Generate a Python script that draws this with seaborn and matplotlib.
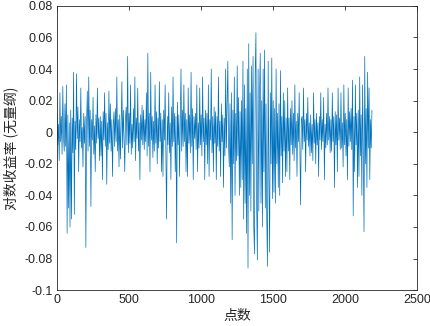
import numpy as np
import pandas as pd
import matplotlib
matplotlib.use("Agg")
import matplotlib.pyplot as plt
import seaborn as sns

# 对数收益率 (单位: 0.001), 每 5 个点取一个读数
returns_milli = [
    12, -8, 5, -18, 25, -6, 10, -14, 29, -3, -12, 18, -9, 30, -64, 11, -48, 6, -60, 14,
    -55, 9, -13, 38, -52, 7, -11, 37, -4, 16, -25, 8, -6, 28, -10, 3, -22, 12, -7, 10,
    -73, 6, 26, -12, 35, -9, 14, -47, 8, -5, 22, -14, 4, -25, 11, -7, 28, -4, 9, -18,
    10, -15, 7, -30, 13, -5, 25, -9, 12, -33, 6, -11, 26, -7, 18, -12, 8, -28, 4, 13,
    -9, 15, -6, 35, -12, 8, -22, 11, -17, 5, 32, -10, 14, -4, -25, 9, 16, -8, 48, -13,
    12, -7, 30, -14, 5, -10, 15, -6, 35, -18, 9, -4, 28, -12, 6, -30, 11, -5, 17, -8,
    14, -11, 8, -6, 25, -15, 50, -9, 12, -25, 38, -5, 10, -16, 7, -12, 30, -7, 13, -20,
    9, -10, 32, -6, 12, -25, 8, -28, 14, -5, 30, -11, -55, 10, -8, 25, -13, 6, -30, 16,
    -9, 35, -6, 12, -25, 10, -70, 19, -8, 11, -28, 5, 40, -12, 14, -9, 30, -6, 12, -25,
    8, -28, 28, -7, 11, -13, 38, -9, 15, -30, 10, -4, 12, -11, 30, -25, 6, -10, 28, -8,
    11, -15, 35, -6, 9, -30, 14, -8, 12, -20, 30, -28, 8, -5, 40, -13, 10, -25, 16, -7,
    13, -30, 10, -9, 35, -12, 7, -28, 18, -6, 11, -35, 9, -15, 40, -10, 16, 45, -8, -22,
    18, -45, 25, -68, 14, -20, 35, -40, 12, -18, 42, -15, 22, -40, 13, -35, 20, -30, 45, -55,
    30, -45, 15, -64, 40, -86, 56, -40, 25, -50, 42, -20, 48, -60, -77, 38, 63, -45, -81, 40,
    -50, 25, 50, -45, 20, -60, 40, -25, 52, -48, 18, -55, -85, 45, -30, -76, 25, -20, 47, -42,
    20, -38, 15, -45, 40, -20, 12, -35, 18, -40, 39, -15, 10, -32, 25, -12, 20, -28, 9, -25,
    28, -12, 9, -30, 15, -8, 20, -14, 12, -18, 30, -10, 7, -28, 12, -6, 25, -9, -46, 8,
    10, -11, 28, -6, 8, -25, 12, -5, 22, -9, 6, -15, 11, -13, 5, -18, 25, -7, 8, -20,
    12, -8, 6, -28, 10, -5, 25, -11, 8, -6, 22, -30, 5, -10, 12, -8, 28, -5, 10, -13,
    8, -12, 25, -6, 10, -35, 13, -8, 11, -25, 28, -5, 9, -11, 25, -10, 6, -22, 30, -8,
    12, -15, 8, -30, 28, -9, 13, -6, 15, -11, 33, -53, 10, -25, 30, -8, 12, -35, 14, -28,
    35, -15, 11, -40, 30, -12, -63, 48, -20, 15, -35, 38, -10, 28, -30, 8, -10, 14,
]
point_step = 5

x_ticks = [0, 500, 1000, 1500, 2000, 2500]
y_ticks = [-0.1, -0.08, -0.06, -0.04, -0.02, 0, 0.02, 0.04, 0.06, 0.08]
y_tick_labels = ["-0.1", "-0.08", "-0.06", "-0.04", "-0.02", "0",
                 "0.02", "0.04", "0.06", "0.08"]

df = pd.DataFrame({
    "point": np.arange(len(returns_milli)) * point_step + 1,
    "ret": np.array(returns_milli) / 1000.0,
})

sns.set_style("white")
plt.rcParams["font.family"] = ["Liberation Sans", "Noto Sans CJK SC", "DejaVu Sans"]
plt.rcParams.update({
    "xtick.direction": "in",
    "ytick.direction": "in",
    "xtick.top": True,
    "ytick.right": True,
    "xtick.major.size": 3,
    "ytick.major.size": 3,
    "xtick.major.width": 0.6,
    "ytick.major.width": 0.6,
    "axes.linewidth": 0.6,
})

fig = plt.figure(figsize=(4.31, 3.26), dpi=100)
ax = fig.add_axes([0.132, 0.110, 0.836, 0.872])

sns.lineplot(data=df, x="point", y="ret", ax=ax, color="#0072BD",
             linewidth=0.5, estimator=None)

ax.set_xlim(0, 2500)
ax.set_ylim(-0.1, 0.08)
ax.set_xticks(x_ticks)
ax.set_xticklabels([str(t) for t in x_ticks])
ax.set_yticks(y_ticks)
ax.set_yticklabels(y_tick_labels)

for s in ax.spines.values():
    s.set_color("#262626")
ax.tick_params(colors="#262626", labelsize=9, pad=3)

ax.set_xlabel("点数", fontsize=10, color="#262626", labelpad=2,
              family=["Noto Sans CJK SC", "DejaVu Sans"])
ax.set_ylabel("对数收益率 (无量纲)", fontsize=10, color="#262626", labelpad=4,
              family=["Noto Sans CJK SC", "DejaVu Sans"])

fig.savefig("out.png", dpi=100)
